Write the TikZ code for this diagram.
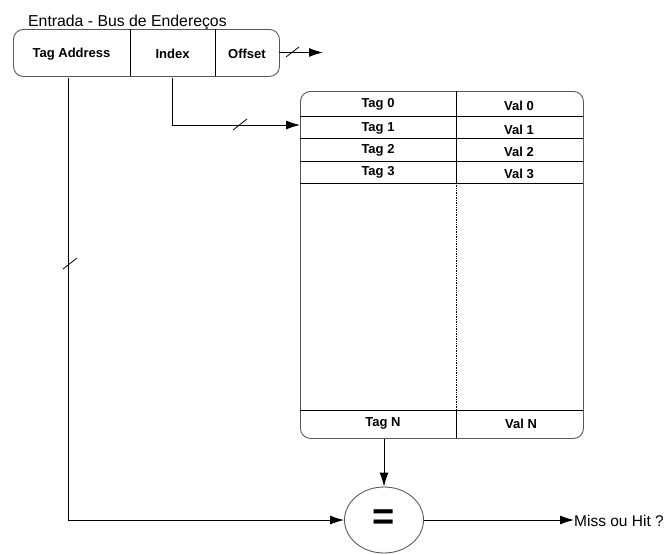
\documentclass[tikz,border=0pt]{standalone}
\usepackage{fontspec}
\setmainfont{Liberation Sans}
\usetikzlibrary{arrows.meta,shapes.geometric}
\begin{document}
\begin{tikzpicture}[x=1pt,y=-1pt,
  box/.style={draw=black!65,line width=0.9pt,rounded corners=10pt},
  cell/.style={inner sep=0pt,font=\fontsize{13}{15}\selectfont\bfseries},
  conn/.style={line width=0.9pt,-{Latex[length=14pt,width=9pt]}},
  plain/.style={line width=0.9pt},
  slash/.style={line width=0.8pt}]
\useasboundingbox (0,0) rectangle (666,554);
% title
\node[anchor=base west,inner sep=0pt,font=\fontsize{15.8}{18}\selectfont] (title) at (28,26) {Entrada - Bus de Endereços};
% address bus box
\node[box,minimum width=266pt,minimum height=47pt,anchor=north west] (bus) at (13,29) {};
\draw[plain] (130,29) -- (130,76);
\draw[plain] (215,29) -- (215,76);
\node[cell,minimum width=117pt,minimum height=47pt] (tagc) at (71.5,54) {Tag Address};
\node[cell,minimum width=85pt,minimum height=47pt] (idxc) at (172.5,54) {Index};
\node[cell,minimum width=64pt,minimum height=47pt] (offc) at (247,54) {Offset};
\coordinate (offend) at (323,52.5);
\draw[conn] (offc.east |- offend) -- (offend);
\draw[slash] (286,57) -- (299,47);
% cache table
\node[box,minimum width=283pt,minimum height=347pt,anchor=north west] (cache) at (300,91) {};
\draw[plain] (300,116) -- (583,116);
\draw[plain] (300,138) -- (583,138);
\draw[plain] (300,161) -- (583,161);
\draw[plain] (300,183) -- (583,183);
\draw[plain] (300,410) -- (583,410);
\draw[plain] (456,91) -- (456,183);
\draw[line width=0.7pt,densely dotted] (456,183) -- (456,410);
\draw[plain] (456,410) -- (456,438);
\node[cell] (t0) at (378,104.5) {Tag 0};
\node[cell] (v0) at (519,105.5) {Val 0};
\node[cell] (t1) at (378,128.5) {Tag 1};
\node[cell] (v1) at (519,129.5) {Val 1};
\node[cell] (t2) at (378,150.5) {Tag 2};
\node[cell] (v2) at (519,151.5) {Val 2};
\node[cell] (t3) at (378,172.5) {Tag 3};
\node[cell] (v3) at (519,173.5) {Val 3};
\node[cell] (tn) at (383,423.5) {Tag N};
\node[cell] (vn) at (521,423.5) {Val N};
% comparator
\node[draw=black!65,line width=0.9pt,ellipse,minimum width=79pt,minimum height=66pt,inner sep=0pt,font=\fontsize{38}{40}\selectfont\bfseries] (eq) at (384,520) {=};
\node[anchor=west,inner sep=0pt,font=\fontsize{15.5}{18}\selectfont] (res) at (574,521) {Miss ou Hit ?};
% connectors
\draw[conn] ([xshift=-3.5pt]tagc.south) |- (eq.west);
\draw[slash] (63,269) -- (77,258);
\draw[conn] (idxc.south) |- (300,125);
\draw[slash] (233,130) -- (247,119);
\draw[conn] (eq.north |- cache.south) -- (eq.north);
\draw[conn] (eq.east) -- (eq.east -| res.west);
\end{tikzpicture}
\end{document}
